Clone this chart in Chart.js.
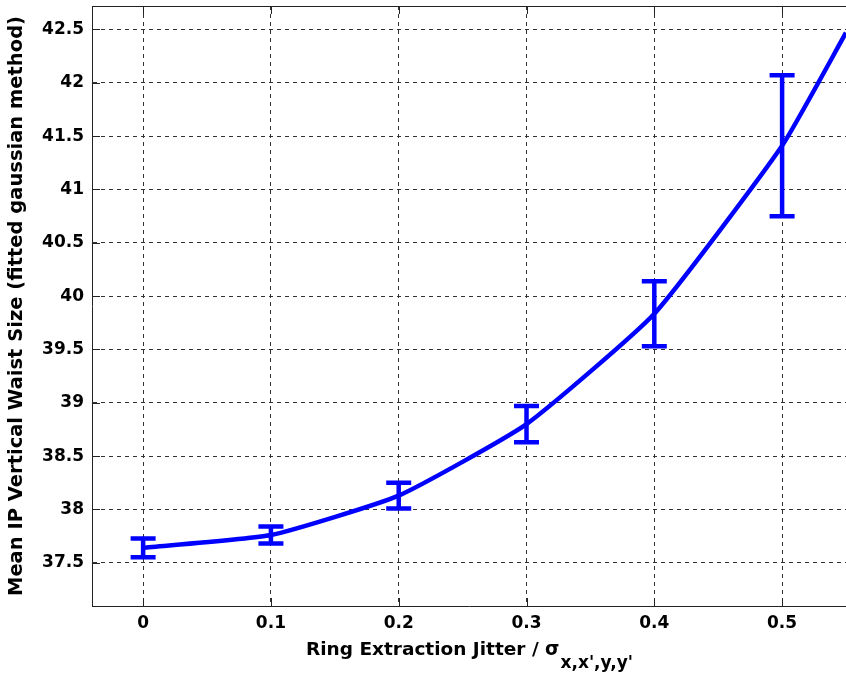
<!DOCTYPE html>
<html>
<head>
<meta charset="utf-8">
<script src="https://cdn.jsdelivr.net/npm/chart.js@4.4.0/dist/chart.umd.min.js"></script>
<style>
  html, body { margin: 0; padding: 0; background: #fff; }
  #wrap { width: 846px; height: 675px; }
</style>
</head>
<body>
<div id="wrap"><canvas id="chart"></canvas></div>
<script>
// measured points with error bars
const jitter = [0, 0.1, 0.2, 0.3, 0.4, 0.5];
const waistMean = [37.64, 37.76, 38.13, 38.80, 39.835, 41.41];
const waistErr = [0.087, 0.08, 0.12, 0.17, 0.305, 0.66];
// smooth curve through the points, last point is where it leaves the plot on the right
const curveX = [0, 0.1, 0.2, 0.3, 0.4, 0.5, 0.55];
const curveY = [37.64, 37.76, 38.13, 38.80, 39.835, 41.41, 42.47];
const xTicks = [0, 0.1, 0.2, 0.3, 0.4, 0.5];
const yTicks = [37.5, 38, 38.5, 39, 39.5, 40, 40.5, 41, 41.5, 42, 42.5];

const blue = '#0000ff';
const fontFam = "'DejaVu Sans', Arial, sans-serif";

const errorBars = {
  id: 'errorBars',
  afterDatasetsDraw(chart) {
    const { ctx, scales: { x, y } } = chart;
    ctx.save();
    ctx.strokeStyle = blue;
    ctx.lineWidth = 4.5;
    jitter.forEach((j, i) => {
      const px = x.getPixelForValue(j);
      const top = y.getPixelForValue(waistMean[i] + waistErr[i]);
      const bot = y.getPixelForValue(waistMean[i] - waistErr[i]);
      ctx.beginPath();
      ctx.moveTo(px, top); ctx.lineTo(px, bot);
      ctx.moveTo(px - 12.5, top); ctx.lineTo(px + 12.5, top);
      ctx.moveTo(px - 12.5, bot); ctx.lineTo(px + 12.5, bot);
      ctx.stroke();
    });
    ctx.restore();
  }
};

// matlab style box: top edge, inward ticks, x label with subscript
const frame = {
  id: 'frame',
  afterDraw(chart) {
    const { ctx, chartArea: a, scales: { x, y } } = chart;
    ctx.save();
    ctx.strokeStyle = '#222';
    ctx.lineWidth = 1;
    ctx.beginPath();
    ctx.moveTo(a.left, Math.round(a.top) + 0.5);
    ctx.lineTo(a.right, Math.round(a.top) + 0.5);
    xTicks.forEach(v => {
      const px = Math.round(x.getPixelForValue(v)) + 0.5;
      ctx.moveTo(px, a.bottom); ctx.lineTo(px, a.bottom - 8);
      ctx.moveTo(px, a.top); ctx.lineTo(px, a.top + 8);
    });
    yTicks.forEach(v => {
      const py = Math.round(y.getPixelForValue(v)) + 0.5;
      ctx.moveTo(a.left, py); ctx.lineTo(a.left + 8, py);
    });
    ctx.stroke();

    const main = 'Ring Extraction Jitter / \u03c3';
    const sub = "x,x',y,y'";
    ctx.fillStyle = '#000';
    ctx.textAlign = 'left';
    ctx.textBaseline = 'alphabetic';
    ctx.font = 'bold 18.5px ' + fontFam;
    const w1 = ctx.measureText(main).width;
    ctx.font = 'bold 17px ' + fontFam;
    const w2 = ctx.measureText(sub).width;
    const sx = (a.left + a.right) / 2 - (w1 + w2) / 2;
    ctx.font = 'bold 18.5px ' + fontFam;
    ctx.fillText(main, sx, a.bottom + 49);
    ctx.font = 'bold 17px ' + fontFam;
    ctx.fillText(sub, sx + w1 + 1, a.bottom + 62);
    ctx.restore();
  }
};

const tickFont = { family: fontFam, size: 17, weight: 'bold' };

new Chart(document.getElementById('chart'), {
  type: 'line',
  data: {
    datasets: [{
      data: curveX.map((v, i) => ({ x: v, y: curveY[i] })),
      borderColor: blue,
      borderWidth: 4.5,
      pointRadius: 0,
      tension: 0.15,
      fill: false
    }]
  },
  options: {
    responsive: true,
    maintainAspectRatio: false,
    animation: false,
    layout: { padding: { top: 6, right: 0, left: 0, bottom: 0 } },
    plugins: { legend: { display: false }, tooltip: { enabled: false } },
    scales: {
      x: {
        type: 'linear',
        min: -0.04,
        max: 0.55,
        afterBuildTicks: s => { s.ticks = xTicks.map(v => ({ value: v })); },
        afterFit: s => { s.height = 69; s.paddingLeft = 0; s.paddingRight = 0; },
        ticks: { font: tickFont, color: '#000', padding: 7, maxRotation: 0, callback: v => String(v) },
        grid: { color: '#333', lineWidth: 1, drawTicks: false },
        border: { display: true, color: '#222', width: 1, dash: [4, 4] }
      },
      y: {
        min: 37.095,
        max: 42.72,
        afterBuildTicks: s => { s.ticks = yTicks.map(v => ({ value: v })); },
        afterFit: s => { s.width = 92; s.paddingTop = 0; s.paddingBottom = 0; },
        ticks: { font: tickFont, color: '#000', padding: 8, callback: v => String(v) },
        grid: { color: '#333', lineWidth: 1, drawTicks: false },
        border: { display: true, color: '#222', width: 1, dash: [4, 4] },
        title: {
          display: true,
          text: 'Mean IP Vertical Waist Size (fitted gaussian method)',
          font: { family: fontFam, size: 19.5, weight: 'bold' },
          color: '#000',
          padding: { top: 5, bottom: 0 }
        }
      }
    }
  },
  plugins: [errorBars, frame]
});
</script>
</body>
</html>
